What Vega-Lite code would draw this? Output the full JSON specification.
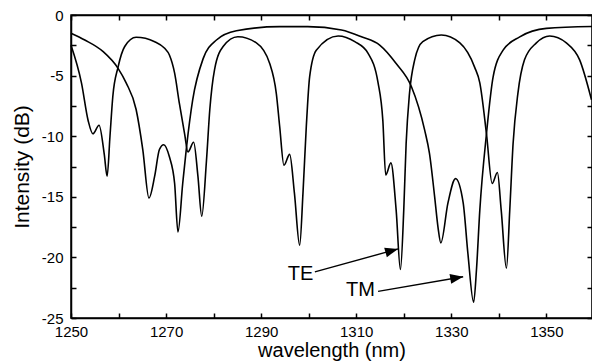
{
  "$schema": "https://vega.github.io/schema/vega-lite/v6.json",
  "width": 521,
  "height": 303,
  "autosize": "none",
  "padding": {"left": 71, "top": 15, "right": 0, "bottom": 44},
  "background": "white",
  "config": {
    "font": "Liberation Sans",
    "view": {"stroke": "black", "strokeWidth": 1.5},
    "axis": {
      "grid": false,
      "domainColor": "black",
      "domainWidth": 1.5,
      "tickColor": "black",
      "tickWidth": 1.5,
      "tickSize": -5,
      "labelColor": "black",
      "labelFont": "Liberation Sans",
      "labelFontSize": 15,
      "titleColor": "black",
      "titleFont": "Liberation Sans",
      "titleFontWeight": "normal"
    }
  },
  "datasets": {
    "curves": [
      {"mode": "TE", "wavelength": 1250.0, "intensity": -2.5},
      {"mode": "TE", "wavelength": 1252.2, "intensity": -5.6},
      {"mode": "TE", "wavelength": 1253.6, "intensity": -8.7},
      {"mode": "TE", "wavelength": 1254.6, "intensity": -9.8},
      {"mode": "TE", "wavelength": 1255.9, "intensity": -9.1},
      {"mode": "TE", "wavelength": 1257.0, "intensity": -11.5},
      {"mode": "TE", "wavelength": 1257.6, "intensity": -13.3},
      {"mode": "TE", "wavelength": 1258.2, "intensity": -10.0},
      {"mode": "TE", "wavelength": 1258.8, "intensity": -6.7},
      {"mode": "TE", "wavelength": 1259.9, "intensity": -4.3},
      {"mode": "TE", "wavelength": 1261.3, "intensity": -2.6},
      {"mode": "TE", "wavelength": 1263.7, "intensity": -1.84},
      {"mode": "TE", "wavelength": 1267.6, "intensity": -2.2},
      {"mode": "TE", "wavelength": 1269.7, "intensity": -2.75},
      {"mode": "TE", "wavelength": 1270.7, "intensity": -3.3},
      {"mode": "TE", "wavelength": 1271.8, "intensity": -4.8},
      {"mode": "TE", "wavelength": 1272.8, "intensity": -7.3},
      {"mode": "TE", "wavelength": 1273.9, "intensity": -9.8},
      {"mode": "TE", "wavelength": 1274.6, "intensity": -11.3},
      {"mode": "TE", "wavelength": 1275.8, "intensity": -10.5},
      {"mode": "TE", "wavelength": 1276.7, "intensity": -13.3},
      {"mode": "TE", "wavelength": 1277.5, "intensity": -16.6},
      {"mode": "TE", "wavelength": 1278.5, "intensity": -12.0},
      {"mode": "TE", "wavelength": 1279.2, "intensity": -7.8},
      {"mode": "TE", "wavelength": 1280.2, "intensity": -4.5},
      {"mode": "TE", "wavelength": 1282.0, "intensity": -2.6},
      {"mode": "TE", "wavelength": 1285.1, "intensity": -1.8},
      {"mode": "TE", "wavelength": 1289.0, "intensity": -2.3},
      {"mode": "TE", "wavelength": 1291.8, "intensity": -4.0},
      {"mode": "TE", "wavelength": 1293.2, "intensity": -6.5},
      {"mode": "TE", "wavelength": 1293.9, "intensity": -9.2},
      {"mode": "TE", "wavelength": 1294.8, "intensity": -12.4},
      {"mode": "TE", "wavelength": 1296.0, "intensity": -11.5},
      {"mode": "TE", "wavelength": 1297.0, "intensity": -14.7},
      {"mode": "TE", "wavelength": 1298.1, "intensity": -19.0},
      {"mode": "TE", "wavelength": 1298.8, "intensity": -14.7},
      {"mode": "TE", "wavelength": 1299.5, "intensity": -9.2},
      {"mode": "TE", "wavelength": 1300.2, "intensity": -5.1},
      {"mode": "TE", "wavelength": 1301.6, "intensity": -2.9},
      {"mode": "TE", "wavelength": 1306.2, "intensity": -1.73},
      {"mode": "TE", "wavelength": 1309.7, "intensity": -2.2},
      {"mode": "TE", "wavelength": 1312.5, "intensity": -3.16},
      {"mode": "TE", "wavelength": 1314.6, "intensity": -5.6},
      {"mode": "TE", "wavelength": 1315.6, "intensity": -8.7},
      {"mode": "TE", "wavelength": 1316.2, "intensity": -13.2},
      {"mode": "TE", "wavelength": 1317.3, "intensity": -12.2},
      {"mode": "TE", "wavelength": 1318.4, "intensity": -16.1},
      {"mode": "TE", "wavelength": 1319.3, "intensity": -21.0},
      {"mode": "TE", "wavelength": 1320.0, "intensity": -16.1},
      {"mode": "TE", "wavelength": 1320.5, "intensity": -10.6},
      {"mode": "TE", "wavelength": 1321.2, "intensity": -6.5},
      {"mode": "TE", "wavelength": 1322.3, "intensity": -3.7},
      {"mode": "TE", "wavelength": 1324.0, "intensity": -2.2},
      {"mode": "TE", "wavelength": 1327.9, "intensity": -1.65},
      {"mode": "TE", "wavelength": 1331.8, "intensity": -2.3},
      {"mode": "TE", "wavelength": 1334.9, "intensity": -4.3},
      {"mode": "TE", "wavelength": 1336.0, "intensity": -5.6},
      {"mode": "TE", "wavelength": 1337.4, "intensity": -9.8},
      {"mode": "TE", "wavelength": 1338.6, "intensity": -13.9},
      {"mode": "TE", "wavelength": 1339.7, "intensity": -13.0},
      {"mode": "TE", "wavelength": 1340.5, "intensity": -16.1},
      {"mode": "TE", "wavelength": 1341.6, "intensity": -20.9},
      {"mode": "TE", "wavelength": 1342.3, "intensity": -16.1},
      {"mode": "TE", "wavelength": 1343.0, "intensity": -10.6},
      {"mode": "TE", "wavelength": 1344.0, "intensity": -6.5},
      {"mode": "TE", "wavelength": 1345.4, "intensity": -3.7},
      {"mode": "TE", "wavelength": 1347.9, "intensity": -2.3},
      {"mode": "TE", "wavelength": 1350.7, "intensity": -1.73},
      {"mode": "TE", "wavelength": 1354.2, "intensity": -2.3},
      {"mode": "TE", "wavelength": 1357.0, "intensity": -3.7},
      {"mode": "TE", "wavelength": 1359.5, "intensity": -7.0},
      {"mode": "TM", "wavelength": 1250.0, "intensity": -1.5},
      {"mode": "TM", "wavelength": 1252.9, "intensity": -2.06},
      {"mode": "TM", "wavelength": 1256.7, "intensity": -3.0},
      {"mode": "TM", "wavelength": 1259.9, "intensity": -4.4},
      {"mode": "TM", "wavelength": 1261.6, "intensity": -5.6},
      {"mode": "TM", "wavelength": 1263.7, "intensity": -7.8},
      {"mode": "TM", "wavelength": 1265.1, "intensity": -11.1},
      {"mode": "TM", "wavelength": 1266.4, "intensity": -15.1},
      {"mode": "TM", "wavelength": 1267.6, "intensity": -13.3},
      {"mode": "TM", "wavelength": 1268.6, "intensity": -11.1},
      {"mode": "TM", "wavelength": 1269.5, "intensity": -10.7},
      {"mode": "TM", "wavelength": 1270.7, "intensity": -11.7},
      {"mode": "TM", "wavelength": 1271.8, "intensity": -13.9},
      {"mode": "TM", "wavelength": 1272.5, "intensity": -17.9},
      {"mode": "TM", "wavelength": 1273.5, "intensity": -13.9},
      {"mode": "TM", "wavelength": 1274.3, "intensity": -10.9},
      {"mode": "TM", "wavelength": 1275.6, "intensity": -7.0},
      {"mode": "TM", "wavelength": 1277.8, "intensity": -3.6},
      {"mode": "TM", "wavelength": 1280.6, "intensity": -2.06},
      {"mode": "TM", "wavelength": 1284.8, "intensity": -1.3},
      {"mode": "TM", "wavelength": 1293.9, "intensity": -0.96},
      {"mode": "TM", "wavelength": 1299.8, "intensity": -0.96},
      {"mode": "TM", "wavelength": 1306.9, "intensity": -1.24},
      {"mode": "TM", "wavelength": 1311.1, "intensity": -1.8},
      {"mode": "TM", "wavelength": 1315.0, "intensity": -2.5},
      {"mode": "TM", "wavelength": 1318.4, "intensity": -4.0},
      {"mode": "TM", "wavelength": 1321.6, "intensity": -5.9},
      {"mode": "TM", "wavelength": 1324.4, "intensity": -9.5},
      {"mode": "TM", "wavelength": 1325.4, "intensity": -11.4},
      {"mode": "TM", "wavelength": 1326.5, "intensity": -15.0},
      {"mode": "TM", "wavelength": 1327.2, "intensity": -17.5},
      {"mode": "TM", "wavelength": 1327.8, "intensity": -18.8},
      {"mode": "TM", "wavelength": 1329.3, "intensity": -15.5},
      {"mode": "TM", "wavelength": 1330.9, "intensity": -13.5},
      {"mode": "TM", "wavelength": 1332.5, "intensity": -15.5},
      {"mode": "TM", "wavelength": 1333.5, "intensity": -19.7},
      {"mode": "TM", "wavelength": 1334.7, "intensity": -23.7},
      {"mode": "TM", "wavelength": 1335.3, "intensity": -21.0},
      {"mode": "TM", "wavelength": 1336.0, "intensity": -16.1},
      {"mode": "TM", "wavelength": 1337.4, "intensity": -9.8},
      {"mode": "TM", "wavelength": 1338.8, "intensity": -5.1},
      {"mode": "TM", "wavelength": 1340.9, "intensity": -2.9},
      {"mode": "TM", "wavelength": 1344.4, "intensity": -1.8},
      {"mode": "TM", "wavelength": 1350.0, "intensity": -1.1},
      {"mode": "TM", "wavelength": 1359.6, "intensity": -0.95}
    ],
    "arrows": [
      {"mode": "TE", "x": 1301.3, "y": -21.2, "x2": 1318.8, "y2": -19.3},
      {"mode": "TM", "x": 1314.6, "y": -22.8, "x2": 1332.5, "y2": -21.6}
    ],
    "labels": [
      {"mode": "TE", "wavelength": 1298.3, "intensity": -21.37},
      {"mode": "TM", "wavelength": 1310.9, "intensity": -22.65}
    ]
  },
  "layer": [
    {
      "data": {"name": "curves"},
      "mark": {"type": "line", "interpolate": "monotone", "color": "black", "strokeWidth": 1.6},
      "encoding": {
        "x": {
          "field": "wavelength", "type": "quantitative",
          "scale": {"domain": [1250, 1359.6], "nice": false, "zero": false},
          "axis": {
            "orient": "bottom",
            "values": [1250, 1260, 1270, 1280, 1290, 1300, 1310, 1320, 1330, 1340, 1350],
            "labelExpr": "datum.value % 20 == 10 ? '' + datum.value : ''",
            "labelPadding": 11,
            "labelFlush": false,
            "title": "wavelength (nm)",
            "titleFontSize": 20,
            "titlePadding": 1
          }
        },
        "y": {
          "field": "intensity", "type": "quantitative",
          "scale": {"domain": [-25, 0], "nice": false, "zero": false},
          "axis": {
            "orient": "left",
            "values": [0, -2.5, -5, -7.5, -10, -12.5, -15, -17.5, -20, -22.5, -25],
            "labelExpr": "datum.value % 5 == 0 ? '' + datum.value : ''",
            "labelPadding": 13,
            "labelFlush": false,
            "title": "Intensity (dB)",
            "titleFontSize": 21,
            "titlePadding": 9
          }
        },
        "detail": {"field": "mode", "type": "nominal"}
      }
    },
    {
      "data": {"name": "curves"},
      "mark": {"type": "line", "opacity": 0},
      "encoding": {
        "x": {
          "field": "wavelength", "type": "quantitative",
          "axis": {
            "orient": "top",
            "values": [1250, 1260, 1270, 1280, 1290, 1300, 1310, 1320, 1330, 1340, 1350],
            "labels": false,
            "title": null
          }
        },
        "y": {
          "field": "intensity", "type": "quantitative",
          "axis": {
            "orient": "right",
            "values": [0, -2.5, -5, -7.5, -10, -12.5, -15, -17.5, -20, -22.5, -25],
            "labels": false,
            "title": null
          }
        },
        "detail": {"field": "mode", "type": "nominal"}
      }
    },
    {
      "data": {"name": "arrows"},
      "mark": {"type": "rule", "color": "black", "strokeWidth": 1.4},
      "encoding": {
        "x": {"field": "x", "type": "quantitative", "axis": null},
        "y": {"field": "y", "type": "quantitative", "axis": null},
        "x2": {"field": "x2"},
        "y2": {"field": "y2"}
      }
    },
    {
      "data": {"name": "arrows"},
      "transform": [{"filter": "datum.mode == 'TE'"}],
      "mark": {"type": "point", "shape": "M0,0L-1,-0.38L-1,0.38Z", "filled": true, "color": "black", "opacity": 1, "size": 676, "angle": 344.5},
      "encoding": {
        "x": {"field": "x2", "type": "quantitative", "axis": null},
        "y": {"field": "y2", "type": "quantitative", "axis": null}
      }
    },
    {
      "data": {"name": "arrows"},
      "transform": [{"filter": "datum.mode == 'TM'"}],
      "mark": {"type": "point", "shape": "M0,0L-1,-0.38L-1,0.38Z", "filled": true, "color": "black", "opacity": 1, "size": 676, "angle": 350.3},
      "encoding": {
        "x": {"field": "x2", "type": "quantitative", "axis": null},
        "y": {"field": "y2", "type": "quantitative", "axis": null}
      }
    },
    {
      "data": {"name": "labels"},
      "mark": {"type": "text", "font": "Liberation Sans", "fontSize": 20, "color": "black", "align": "center", "baseline": "middle"},
      "encoding": {
        "x": {"field": "wavelength", "type": "quantitative", "axis": null},
        "y": {"field": "intensity", "type": "quantitative", "axis": null},
        "text": {"field": "mode", "type": "nominal"}
      }
    }
  ],
  "resolve": {"axis": {"x": "independent", "y": "independent"}}
}
